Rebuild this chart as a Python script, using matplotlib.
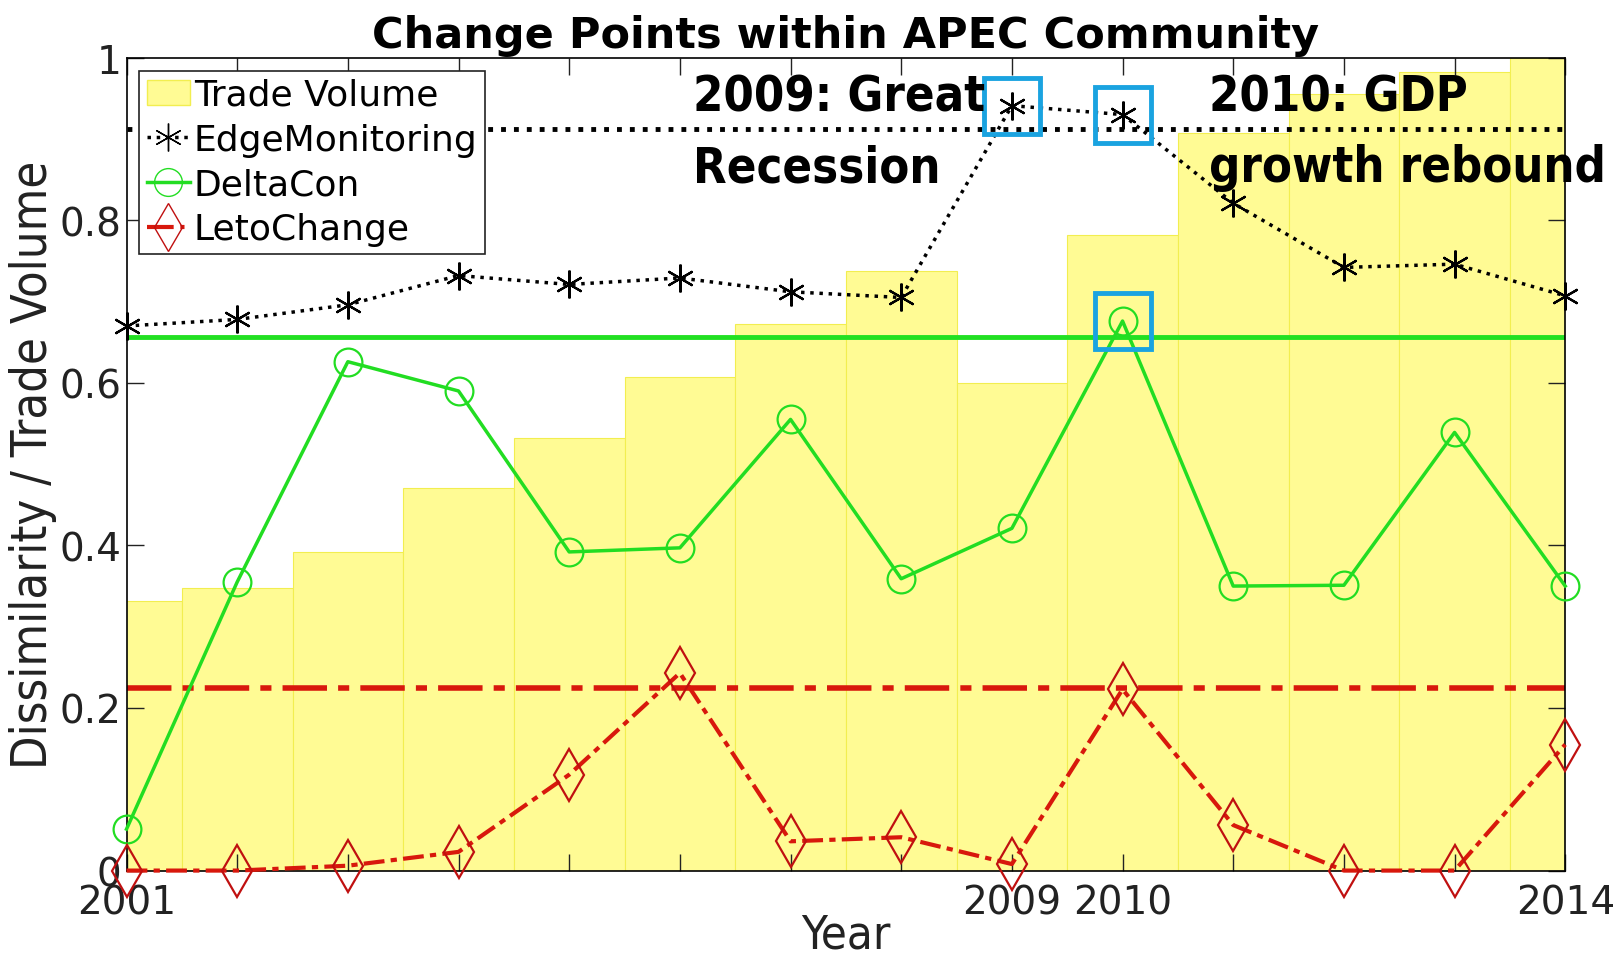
import matplotlib
matplotlib.use("Agg")
import matplotlib.pyplot as plt
from matplotlib.patches import Patch
from matplotlib.lines import Line2D
from matplotlib import font_manager

years = list(range(2001, 2015))
shown_years = [2001, 2009, 2010, 2014]
trade_volume = [0.332, 0.347, 0.392, 0.471, 0.532, 0.607, 0.672, 0.738, 0.600, 0.782, 0.907, 0.955, 0.983, 1.0]
edge_monitoring = [0.670, 0.678, 0.696, 0.732, 0.721, 0.729, 0.712, 0.705, 0.941, 0.930, 0.821, 0.742, 0.746, 0.707]
delta_con = [0.051, 0.355, 0.626, 0.590, 0.392, 0.397, 0.555, 0.359, 0.421, 0.676, 0.350, 0.351, 0.539, 0.350]
leto_change = [0.0, 0.0, 0.006, 0.023, 0.118, 0.243, 0.036, 0.041, 0.008, 0.223, 0.056, 0.0, 0.0, 0.155]
thr_edge = 0.912
thr_delta = 0.656
thr_leto = 0.224
# change points flagged (year, series)
flag_edge = [2009, 2010]
flag_delta = [2010]

# use a condensed face for the axis labels if the system has one
has_cond = any(f.name == 'DejaVu Sans' and f.stretch in ('condensed', 'semi-condensed', 600, 700)
               for f in font_manager.fontManager.ttflist)
stretch = 'condensed' if has_cond else 'normal'

fig = plt.figure(figsize=(16.22, 9.62), dpi=100)
ax = fig.add_axes([0.078, 0.094, 0.887, 0.845])

ax.bar(years, trade_volume, width=1.0, color='#fffb94', edgecolor='#f2ee50', linewidth=0.8, zorder=1)

ax.axhline(thr_edge, color='black', ls=':', lw=3.5, zorder=2)
ax.axhline(thr_delta, color='#22e022', ls='-', lw=3.5, zorder=2)
ax.axhline(thr_leto, color='#d8180c', ls='-.', lw=4, dashes=(8, 2, 2, 2), zorder=2)

ax.plot(years, edge_monitoring, color='black', ls=':', lw=2.5, zorder=4, clip_on=False)
ax.plot(years, edge_monitoring, ls='none', marker=(6, 2, 0), ms=20, mec='black', mew=1.6, zorder=5, clip_on=False)
ax.plot(years, delta_con, color='#22dd22', ls='-', lw=2.5, marker='o', ms=20, mfc='none', mec='#22dd22', mew=1.6, zorder=4, clip_on=False)
ax.plot(years, leto_change, color='#d8180c', ls='-.', lw=3, dashes=(5, 1.5, 1.5, 1.5), marker='d', ms=26,
        mfc='none', mec='#c01010', mew=1.6, zorder=4, clip_on=False)

box_col = '#1aa3e0'
ax.plot(flag_edge, [edge_monitoring[years.index(y)] for y in flag_edge], ls='none', marker='s', ms=40,
        mfc='none', mec=box_col, mew=3.5, zorder=6)
ax.plot(flag_delta, [delta_con[years.index(y)] for y in flag_delta], ls='none', marker='s', ms=40,
        mfc='none', mec=box_col, mew=3.5, zorder=6)

ax.text(2006.12, 0.982, "2009: Great\nRecession", fontsize=35, fontweight='bold', stretch=stretch,
        va='top', ha='left', linespacing=1.6, zorder=7)
ax.text(2010.78, 0.982, "2010: GDP\ngrowth rebound", fontsize=35, fontweight='bold', stretch=stretch,
        va='top', ha='left', linespacing=1.6, zorder=7, clip_on=False)

ax.set_xlim(2001, 2014)
ax.set_ylim(0, 1)
ax.set_xticks(years)
ax.set_xticklabels([str(y) if y in shown_years else '' for y in years])
ax.set_yticks([0, 0.2, 0.4, 0.6, 0.8, 1.0])
ax.set_yticklabels(['0', '0.2', '0.4', '0.6', '0.8', '1'])
ax.tick_params(direction='in', length=12, width=1, top=True, right=True, colors='#222222')
ax.tick_params(axis='y', labelsize=28)
ax.tick_params(axis='x', labelsize=28, pad=9)
for s in ax.spines.values():
    s.set_linewidth(1.2)

ax.set_xlabel("Year", fontsize=34, stretch=stretch, color='#222222', labelpad=-6)
ax.set_ylabel("Dissimilarity / Trade Volume", fontsize=35, stretch=stretch, color='#222222', labelpad=2)
ax.set_title("Change Points within APEC Community", fontsize=31, fontweight='bold', pad=8)

handles = [
    Patch(facecolor='#fffb94', edgecolor='#f2ee50'),
    Line2D([], [], color='black', ls=':', lw=2.5, marker=(6, 2, 0), ms=20, mec='black'),
    Line2D([], [], color='#22dd22', ls='-', lw=2.5, marker='o', ms=20, mfc='none', mec='#22dd22'),
    Line2D([], [], color='#d8180c', ls='-.', lw=3, marker='d', ms=24, mfc='none', mec='#c01010'),
]
labels = ['Trade Volume', 'EdgeMonitoring', 'DeltaCon', 'LetoChange']
leg = ax.legend(handles, labels, loc='upper left', bbox_to_anchor=(0.009, 0.984), fontsize=26,
                frameon=True, fancybox=False, edgecolor='#222222', framealpha=1,
                handlelength=1.2, handletextpad=0.1, borderpad=0.2, labelspacing=0.3, borderaxespad=0)
leg.get_frame().set_linewidth(1.2)
leg.set_zorder(8)

fig.savefig("out.png", dpi=100)
